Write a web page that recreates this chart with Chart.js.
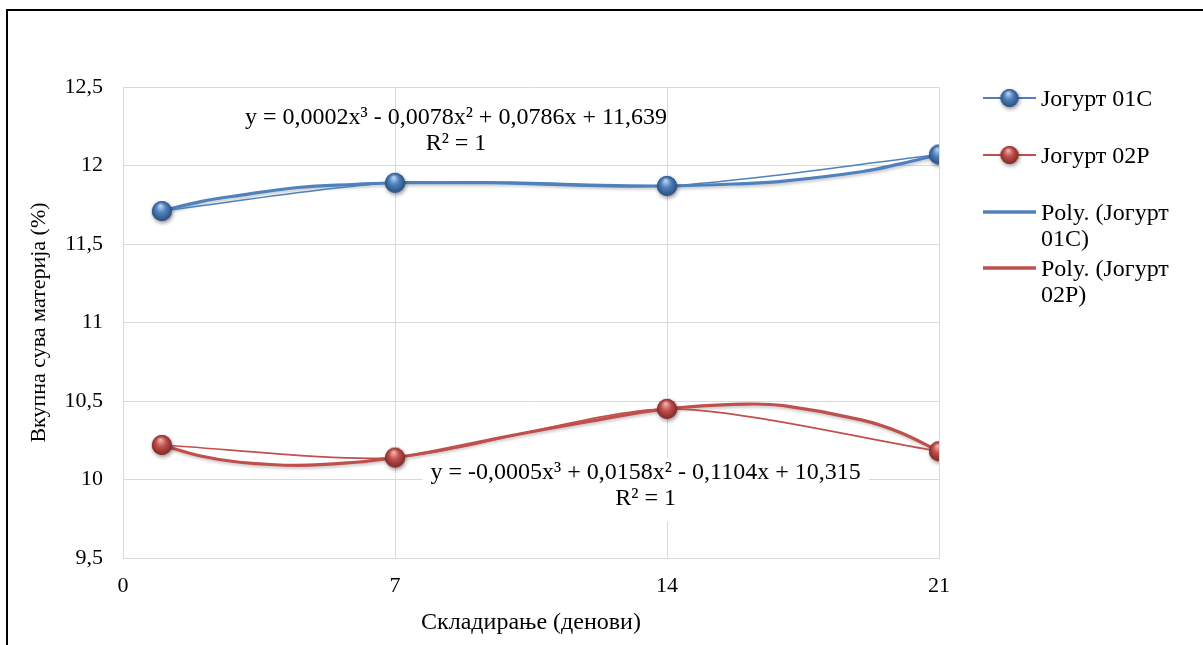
<!DOCTYPE html>
<html><head><meta charset="utf-8">
<script src="https://cdn.jsdelivr.net/npm/chart.js@4.4.1/dist/chart.umd.min.js"></script>
<style>
html,body{margin:0;padding:0;background:#fff;}
#wrap{position:relative;width:1203px;height:645px;overflow:hidden;}
#frame{position:absolute;left:6px;top:9px;right:-5px;bottom:-5px;border-left:2px solid #000;border-top:2px solid #000;pointer-events:none;}
</style></head><body>
<div id="wrap"><canvas id="c" width="1203" height="645"></canvas><div id="frame"></div></div>
<script>
// ---- data ----
const days = [1, 7, 14, 21];
const yogurt01C = [11.71, 11.89, 11.87, 12.07];
const yogurt02P = [10.22, 10.14, 10.45, 10.18];
const trendDays = [1, 2, 3, 4.5, 6, 7, 8, 10, 12, 14, 16, 17, 19, 20, 21];
const trend01C = [11.71, 11.77, 11.81, 11.86, 11.88, 11.89, 11.89, 11.89, 11.875, 11.87, 11.885, 11.90, 11.96, 12.01, 12.07];
const trend02P = [10.22, 10.15, 10.11, 10.09, 10.11, 10.14, 10.18, 10.28, 10.37, 10.45, 10.48, 10.47, 10.38, 10.30, 10.18];
const seriesLabels = ['Јогурт 01С', 'Јогурт 02Р', 'Poly. (Јогурт 01С)', 'Poly. (Јогурт 02Р)'];
const xTicks = [0, 7, 14, 21];
const yTicks = [9.5, 10, 10.5, 11, 11.5, 12, 12.5];
const eq01C = ['y = 0,0002x³ - 0,0078x² + 0,0786x + 11,639', 'R² = 1'];
const eq02P = ['y = -0,0005x³ + 0,0158x² - 0,1104x + 10,315', 'R² = 1'];
const xTitle = 'Складирање (денови)';
const yTitle = 'Вкупна сува материја (%)';

const FONT = '"Liberation Serif", "Times New Roman", serif';
const BLUE = '#4F81BD', RED = '#C0504D';

function sphere(base, light, dark, r) {
  const pad = 5, s = 2 * (r + pad);
  const c = document.createElement('canvas'); c.width = s; c.height = s;
  const g = c.getContext('2d');
  const cx = s / 2, cy = s / 2;
  g.save();
  g.shadowColor = 'rgba(0,0,0,0.45)'; g.shadowBlur = 4; g.shadowOffsetX = 1; g.shadowOffsetY = 2;
  g.beginPath(); g.arc(cx, cy, r, 0, Math.PI * 2); g.fillStyle = dark; g.fill();
  g.restore();
  const grad = g.createRadialGradient(cx - r * 0.15, cy - r * 0.55, r * 0.05, cx, cy, r * 1.05);
  grad.addColorStop(0, light); grad.addColorStop(0.45, base); grad.addColorStop(1, dark);
  g.beginPath(); g.arc(cx, cy, r, 0, Math.PI * 2); g.fillStyle = grad; g.fill();
  return c;
}
const blueBall = sphere('#4F81BD', '#BBD3F2', '#284D7A', 10);
const redBall = sphere('#C0504D', '#F4B3B1', '#7E2624', 10);
const blueBallL = sphere('#4F81BD', '#BBD3F2', '#284D7A', 9);
const redBallL = sphere('#C0504D', '#F4B3B1', '#7E2624', 9);

const toXY = (xs, ys) => xs.map((x, i) => ({x: x, y: ys[i]}));

function wrapText(ctx, text, maxW) {
  const words = text.split(' ');
  const lines = []; let cur = '';
  words.forEach(w => {
    const t = cur ? cur + ' ' + w : w;
    if (ctx.measureText(t).width > maxW && cur) { lines.push(cur); cur = w; } else cur = t;
  });
  if (cur) lines.push(cur);
  return lines;
}

const overlayPlugin = {
  id: 'xlOverlay',
  beforeDatasetDraw(chart, args) {
    const ds = chart.data.datasets[args.index];
    if (ds.isTrend) {
      const ctx = chart.ctx; ctx.save();
      ctx.shadowColor = 'rgba(0,0,0,0.22)'; ctx.shadowBlur = 3; ctx.shadowOffsetX = 1; ctx.shadowOffsetY = 2;
    }
  },
  afterDatasetDraw(chart, args) {
    const ds = chart.data.datasets[args.index];
    if (ds.isTrend) chart.ctx.restore();
  },
  afterDraw(chart, args, o) {
    const ctx = chart.ctx;
    const xs = chart.scales.x, ys = chart.scales.y;
    ctx.save();
    // equation labels
    ctx.font = o.eqSize + 'px ' + FONT;
    ctx.fillStyle = '#000'; ctx.textAlign = 'center'; ctx.textBaseline = 'middle';
    o.labels.forEach(L => {
      const cx = xs.getPixelForValue(L.x), cy = ys.getPixelForValue(L.y);
      if (L.box) {
        const w = Math.max(...L.text.map(t => ctx.measureText(t).width));
        ctx.fillStyle = '#fff';
        ctx.fillRect(cx - w / 2 - 8, cy - 15, w + 16, o.eqLine + 38);
        ctx.fillStyle = '#000';
      }
      L.text.forEach((t, i) => ctx.fillText(t, cx, cy + i * o.eqLine));
    });
    // legend
    ctx.font = o.legSize + 'px ' + FONT;
    ctx.textAlign = 'left';
    chart.data.datasets.forEach((ds, i) => {
      const y0 = o.legRows[i];
      ctx.strokeStyle = ds.borderColor;
      ctx.lineWidth = ds.isTrend ? 3.5 : 2;
      ctx.beginPath(); ctx.moveTo(o.legX0, y0); ctx.lineTo(o.legX1, y0); ctx.stroke();
      if (ds.legendBall) {
        const b = ds.legendBall;
        ctx.drawImage(b, (o.legX0 + o.legX1) / 2 - b.width / 2, y0 - b.height / 2);
      }
      ctx.fillStyle = '#000';
      const lines = wrapText(ctx, ds.label, o.legMaxW);
      lines.forEach((t, k) => ctx.fillText(t, o.legTextX, y0 + 2 + k * o.legLine));
    });
    ctx.restore();
  }
};

Chart.defaults.font.family = FONT;
Chart.defaults.color = '#000';

new Chart(document.getElementById('c'), {
  type: 'scatter',
  data: {
    datasets: [
      {label: seriesLabels[0], data: toXY(days, yogurt01C), showLine: true, borderColor: BLUE, borderWidth: 1.6,
       tension: 0.28, pointStyle: blueBall, pointRadius: 10, legendBall: blueBallL},
      {label: seriesLabels[1], data: toXY(days, yogurt02P), showLine: true, borderColor: RED, borderWidth: 1.6,
       tension: 0.25, pointStyle: redBall, pointRadius: 10, legendBall: redBallL},
      {label: seriesLabels[2], data: toXY(trendDays, trend01C), showLine: true, borderColor: BLUE, borderWidth: 3.2,
       tension: 0.4, pointRadius: 0, isTrend: true},
      {label: seriesLabels[3], data: toXY(trendDays, trend02P), showLine: true, borderColor: RED, borderWidth: 3.2,
       tension: 0.4, pointRadius: 0, isTrend: true}
    ]
  },
  options: {
    responsive: false, animation: false, devicePixelRatio: 1,
    layout: {padding: {left: 0, right: 264, top: 87, bottom: 0}},
    plugins: {
      legend: {display: false}, tooltip: {enabled: false},
      xlOverlay: {
        eqSize: 24, eqLine: 26,
        labels: [
          {x: 8.57, y: 12.305, text: eq01C, box: false},
          {x: 13.45, y: 10.045, text: eq02P, box: true}
        ],
        legSize: 24, legLine: 26, legRows: [98, 155, 212, 268],
        legX0: 983, legX1: 1036, legTextX: 1041, legMaxW: 150
      }
    },
    scales: {
      x: {
        type: 'linear', min: 0, max: 21,
        afterBuildTicks: s => { s.ticks = xTicks.map(v => ({value: v})); },
        afterFit: s => { s.height = 87; },
        grid: {color: '#D9D9D9', lineWidth: 1, drawTicks: false},
        border: {color: '#D9D9D9'},
        ticks: {padding: 15, font: {size: 22}, color: '#000'},
        title: {display: true, text: xTitle, font: {size: 24}, color: '#000', padding: {top: 0, bottom: 8}}
      },
      y: {
        min: 9.5, max: 12.5,
        afterBuildTicks: s => { s.ticks = yTicks.map(v => ({value: v})); },
        afterFit: s => { s.width = 123; },
        grid: {color: '#D9D9D9', lineWidth: 1, drawTicks: false},
        border: {color: '#D9D9D9'},
        ticks: {padding: 20, font: {size: 22}, color: '#000',
                callback: v => String(v).replace('.', ',')},
        title: {display: true, text: yTitle, font: {size: 22}, color: '#000', padding: {top: 26, bottom: 0}}
      }
    }
  },
  plugins: [overlayPlugin]
});
</script>
</body></html>
